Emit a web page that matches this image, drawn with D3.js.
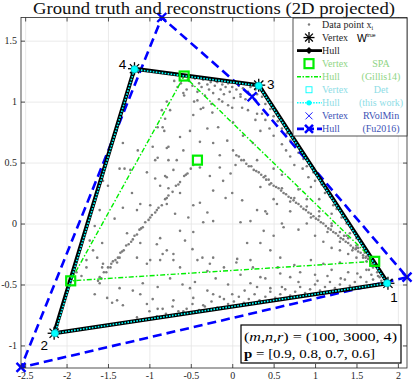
<!DOCTYPE html>
<html>
<head>
<meta charset="utf-8">
<title></title>
<style type="text/css">
	body{ margin:0; background:#fff; }
	svg text{ font-family:"Liberation Serif","DejaVu Serif",serif; }
</style>
</head>
<body>
<div id="chart"></div>
<script src="https://d3js.org/d3.v7.min.js"></script>
<script>
// tick labels
let xTicks=[-2.5,-2,-1.5,-1,-0.5,0,0.5,1,1.5,2]
let yTicks=[-1,-0.5,0,0.5,1,1.5]

// vertices
let trueVerts=[[1.88,-0.49],[-2.15,-0.90],[0.32,1.135],[-1.18,1.27]]
let trueHull=[0,1,3,2,0]
let detVerts=[[1.87,-0.49],[-2.14,-0.90],[0.32,1.13],[-1.18,1.265]]
let spaVerts=[[1.72,-0.31],[-1.95,-0.47],[-0.58,1.21],[-0.42,0.52]]
let spaHull=[0,1,2,0]
let rvolVerts=[[2.11,-0.44],[-2.55,-1.18],[-0.85,1.69],[0.24,1.04]]
let rvolHull=[0,1,2,3,0]
let vertLabels=["1","2","3","4"]

// data points x_i (dense streak lower left)
let ptsLineA=[[-1.62,-0.47],[-1.60,-0.44],[-1.58,-0.45],[-1.55,-0.40],[-1.52,-0.40],[-1.50,-0.36],[-1.47,-0.36],[-1.46,-0.33],[-1.44,-0.31],[-1.41,-0.30],[-1.38,-0.28],[-1.35,-0.24],[-1.33,-0.23],[-1.31,-0.22],[-1.28,-0.18],[-1.25,-0.17],[-1.22,-0.15],[-1.20,-0.13],[-1.18,-0.10],[-1.15,-0.09],[-1.12,-0.05],[-1.10,-0.04],[-1.08,-0.03],[-1.05,0.01],[-1.01,0.03],[-0.99,0.05],[-0.97,0.07],[-0.93,0.09],[-0.91,0.11],[-0.89,0.13],[-0.85,0.15],[-0.81,0.20],[-0.79,0.21],[-0.77,0.23],[-0.72,0.26],[-0.68,0.31],[-0.65,0.32],[-0.63,0.34],[-0.58,0.39],[-0.56,0.40],[-0.54,0.41],[-0.50,0.45],[-0.47,0.48]]
// dense streak right
let ptsLineB=[[0.05,0.56],[0.08,0.55],[0.11,0.52],[0.14,0.52],[0.17,0.49],[0.20,0.47],[0.23,0.47],[0.26,0.44],[0.29,0.43],[0.32,0.42],[0.35,0.40],[0.38,0.38],[0.41,0.36],[0.44,0.36],[0.47,0.33],[0.50,0.31],[0.53,0.30],[0.56,0.29],[0.59,0.27],[0.62,0.25],[0.65,0.24],[0.68,0.22],[0.71,0.21],[0.74,0.19],[0.77,0.17],[0.80,0.16],[0.83,0.14],[0.86,0.12],[0.89,0.11],[0.92,0.09],[0.95,0.08],[0.98,0.06],[1.01,0.04],[1.04,0.03],[1.07,0.01],[1.10,0.00],[1.13,-0.02],[1.16,-0.04],[1.19,-0.05],[1.22,-0.07],[1.25,-0.08],[1.28,-0.10],[1.31,-0.12],[1.34,-0.13],[1.37,-0.15],[1.40,-0.16],[1.43,-0.18],[1.46,-0.20],[1.49,-0.21],[1.52,-0.23],[1.55,-0.24],[1.58,-0.26],[1.61,-0.28],[1.64,-0.29],[1.67,-0.31],
	[0.40,0.39],[0.60,0.29],[0.75,0.21],[0.90,0.14],[1.05,0.06],[1.20,-0.02],[1.35,-0.10],[1.50,-0.18],[1.60,-0.24],[0.45,0.32],[0.70,0.18],[0.95,0.05],[1.15,-0.07],[1.30,-0.15],[1.45,-0.22],[1.62,-0.31]]
// band under the top edge
let ptsTop=[[-0.70,1.17],[-0.66,1.12],[-0.62,1.15],[-0.55,1.10],[-0.52,1.17],[-0.48,1.13],[-0.45,1.19],[-0.42,1.08],[-0.40,1.15],[-0.37,1.12],[-0.35,1.18],[-0.33,1.05],[-0.30,1.14],[-0.28,1.10],[-0.26,1.16],[-0.23,1.07],[-0.21,1.13],[-0.18,1.16],[-0.16,1.02],[-0.14,1.10],[-0.12,1.14],[-0.10,1.06],[-0.08,1.12],[-0.05,1.15],[-0.03,1.08],[0.00,1.12],[0.02,1.03],[0.05,1.10],[0.08,1.13],[0.10,1.06],[0.13,1.11],[0.16,1.02],[0.19,1.08],[0.22,1.12],[0.25,1.05],[-0.58,1.05],[-0.46,1.00],[-0.25,0.98],[-0.05,0.97],[0.12,0.95],[-0.38,0.94],[-0.20,1.17],[-0.60,1.20],[0.28,1.10]]
// band over the bottom edge
let ptsBottom=[[-1.0,-0.72],[-0.9,-0.70],[-0.8,-0.74],[-0.72,-0.68],[-0.65,-0.72],[-0.55,-0.70],[-0.48,-0.66],[-0.40,-0.71],[-0.33,-0.68],[-0.25,-0.64],[-0.18,-0.69],[-0.10,-0.62],[-0.05,-0.66],[0.02,-0.64],[0.08,-0.60],[0.14,-0.65],[0.20,-0.62],[0.27,-0.58],[0.33,-0.63],[0.40,-0.60],[0.46,-0.56],[0.52,-0.61],[0.58,-0.58],[0.64,-0.54],[0.70,-0.59],[0.76,-0.56],[0.82,-0.52],[0.88,-0.57],[0.94,-0.54],[1.00,-0.50],[1.06,-0.55],[1.12,-0.52],[1.18,-0.48],[1.24,-0.53],[1.30,-0.50],[1.36,-0.46],[1.42,-0.51],[1.48,-0.48],[1.55,-0.44],[1.62,-0.48],[1.70,-0.46],[1.76,-0.43],[1.80,-0.47]]
// band along the right edge
let ptsRight=[[1.65,-0.38],[1.58,-0.28],[1.52,-0.20],[1.50,-0.12],[1.42,-0.08],[1.38,0.00],[1.32,0.05],[1.26,0.12],[1.22,0.15],[1.18,0.22],[1.12,0.25],[1.08,0.32],[1.00,0.35],[0.98,0.42],[0.90,0.47],[0.86,0.53],[0.80,0.58],[0.76,0.64],[0.70,0.68],[0.66,0.74],[0.60,0.78],[0.55,0.84],[0.50,0.88],[0.46,0.94],[0.40,0.98],[0.36,1.04],[0.30,1.06]]
// the rest of the cloud
let ptsScatter=[[-0.79,1.00],[-0.85,0.93],[-0.81,0.86],[-0.90,0.79],[-0.82,0.76],[-1.32,0.66],[-1.14,0.60],[-0.96,0.63],[-0.90,0.54],[-0.93,0.52],[-1.36,0.45],[-1.30,0.45],[-0.77,0.52],[-0.79,0.62],
	[-1.56,0.35],[-1.50,0.31],[-1.60,0.11],[-1.66,-0.02],[-1.72,-0.14],[-1.68,-0.22],[-1.76,-0.30],[-1.63,-0.28],[-1.57,-0.16],
	[-1.23,0.44],[-1.03,0.42],[-0.93,0.37],[-0.87,0.31],[-0.79,0.38],[-1.21,0.25],[-1.11,0.16],[-0.99,0.15],[-1.15,0.11],[-1.32,0.13],[-1.42,0.04],[-1.27,-0.08],[-1.11,-0.16],[-0.91,-0.17],[-0.84,-0.25],[-0.99,-0.30],[-1.36,-0.28],[-1.57,-0.36],
	[-1.76,-0.36],[-1.82,-0.43],[-1.88,-0.40],[-1.56,-0.33],[-1.39,-0.32],[-1.15,-0.28],[-1.03,-0.33],[-0.87,-0.30],[-0.71,-0.25],[-0.63,-0.36],[-0.42,-0.30],[-0.30,-0.39],[-0.23,-0.28],
	[-1.51,-0.61],[-1.45,-0.65],[-1.39,-0.63],[-1.32,-0.67],[-1.20,-0.55],[-1.11,-0.58],[-1.03,-0.66],[-0.96,-0.62],[-0.84,-0.70],[-0.71,-0.63],[-0.59,-0.72],[-0.47,-0.61],[-0.35,-0.67],[-0.23,-0.58],[-1.60,-0.49],[-1.66,-0.58],[-1.08,-0.49],[-1.36,-0.53],[-0.51,-0.53],[-0.91,-0.76],[-1.15,-0.77],
	[-0.81,0.39],[-0.71,0.44],[-0.77,0.29],[-0.63,0.25],[-0.79,0.16],[-0.39,0.17],[-0.30,0.09],[-0.23,0.02],[-0.35,0.01],[-0.47,-0.07],[-0.63,-0.06],[-0.57,-0.14],[-0.48,-0.21],[-0.79,-0.22],[-0.36,-0.28],[-0.27,-0.33],[0.06,-0.29],[0.18,-0.16],[0.34,-0.16],[0.46,-0.22],[0.58,-0.28],[0.38,-0.06],[0.22,0.02],[0.10,0.01],[0.30,0.11],[0.42,0.08],[0.54,0.16],[0.62,-0.03],[0.00,0.25],[-0.08,0.21],[0.12,0.19],[-0.02,0.41],[0.04,0.48],[-0.15,0.46],[-0.11,0.35],[-0.27,0.39],[-0.39,0.46],[-0.23,0.27],[-0.47,0.15],[-0.53,0.05],[-0.69,0.08],[-0.87,-0.12],[-0.71,-0.30],[0.22,-0.30],[0.50,-0.10],[0.34,0.30],
	[-0.59,1.07],[-0.42,1.01],[-0.35,0.95],[-0.47,0.89],[-0.24,0.91],[-0.12,1.00],[0.00,0.95],[0.10,1.04],[0.19,0.93],[0.28,0.85],[0.01,0.83],[-0.17,0.79],[-0.30,0.78],[-0.51,0.76],[-0.63,0.71],[-0.39,0.67],[-0.23,0.66],[-0.06,0.68],[0.13,0.72],[0.25,0.66],[0.01,0.60],[-0.15,0.56],[-0.59,0.60],[-0.67,0.52],[-0.84,0.79],[-0.75,0.93],[-0.77,0.63],[0.34,0.76],[0.36,0.90],
	[0.95,0.30],[1.05,0.20],[0.85,0.45],[0.70,0.55],[0.75,0.48],[0.60,0.65],[0.50,0.72],[0.40,0.85],[0.30,0.90],[0.45,0.78],[1.38,-0.10],[1.50,-0.20],[1.20,0.08],[0.92,0.38],[0.65,0.60],
	[0.30,0.52],[0.60,0.40],[0.90,0.20],[1.20,0.00],[1.40,-0.12],[0.50,0.45],[0.80,0.28],[1.05,0.10],[1.30,-0.07],
	[0.40,0.10],[0.60,0.00],[0.80,-0.05],[1.00,-0.10],[1.20,-0.20],[1.40,-0.25],[0.50,0.20],[0.70,0.10],[0.90,0.00],[1.10,-0.15],[1.30,-0.22],[1.50,-0.28],
	[0.58,-0.41],[0.70,-0.44],[0.82,-0.40],[1.03,-0.47],[1.15,-0.43],[1.31,-0.45],[1.51,-0.41],[0.22,-0.49],[0.34,-0.44],[0.46,-0.53],[-0.20,-0.45],[-0.05,-0.50],[0.10,-0.42],[0.30,-0.52],[0.00,-0.58],[-0.30,-0.55],[-0.15,-0.60],[0.15,-0.55],[0.40,-0.45],[0.60,-0.52],[0.80,-0.48],[1.00,-0.42],[1.20,-0.38],[1.40,-0.40],[-0.45,-0.48],[-0.60,-0.50],[-0.75,-0.45],[-0.90,-0.52],[0.55,-0.36],[0.75,-0.34],[0.95,-0.30],[1.10,-0.33],[1.30,-0.32],[0.25,-0.36],[-0.10,-0.36],[0.05,-0.32],
	[1.75,-0.40],[1.70,-0.36],[1.78,-0.44],[1.68,-0.42],[1.62,-0.38],[1.69,-0.33],[1.62,-0.27]]

let legendLeft=["Data point x","Vertex","Hull","Vertex","Hull","Vertex","Hull","Vertex","Hull"]
let legendRight=["","","","SPA","(Gillis14)","Det","(this work)","RVolMin","(Fu2016)"]

let w=415, h=383
let pL=21, pR=407, pT=17.5, pB=368
let green="#00ee00", cyan="#00ffff", blue="#0000ff", ink="#262626"
let txtCol=[ink,ink,ink,"#8fd585","#8fd585","#8ddde6","#8ddde6","#3d53b6","#3d53b6"]

let svg=d3.select("#chart").append("svg")
	.attr("width",w)
	.attr("height",h)

let x=d3.scaleLinear().domain([-2.55,2.11]).range([pL,pR])
let y=d3.scaleLinear().domain([-1.185,1.69]).range([pB,pT])

// grid
svg.append("g")
	.attr("transform","translate(0,"+pB+")")
	.call(d3.axisBottom(x).tickValues(xTicks).tickSize(-(pB-pT)).tickFormat(""))
	.call(g=>g.select(".domain").remove())
	.selectAll("line").attr("stroke","#e4e4e4").attr("stroke-width",0.8)
svg.append("g")
	.attr("transform","translate("+pL+",0)")
	.call(d3.axisLeft(y).tickValues(yTicks).tickSize(-(pR-pL)).tickFormat(""))
	.call(g=>g.select(".domain").remove())
	.selectAll("line").attr("stroke","#e4e4e4").attr("stroke-width",0.8)

// data points
let allPts=ptsLineA.concat(ptsLineB,ptsTop,ptsBottom,ptsRight,ptsScatter)
svg.append("g").selectAll("circle")
	.data(allPts)
	.enter()
	.append("circle")
	.attr("cx",function(d){ return x(d[0]) })
	.attr("cy",function(d){ return y(d[1]) })
	.attr("r",1.3)
	.attr("fill","#7d7d7d")

let line=d3.line()
	.x(function(d){ return x(d[0]) })
	.y(function(d){ return y(d[1]) })

function hullPts(verts,order){
	return order.map(function(i){ return verts[i] })
}

// RVolMin hull
svg.append("path")
	.attr("d",line(hullPts(rvolVerts,rvolHull)))
	.attr("fill","none")
	.attr("stroke",blue)
	.attr("stroke-width",2.6)
	.attr("stroke-dasharray","9,5")

// SPA hull
svg.append("path")
	.attr("d",line(hullPts(spaVerts,spaHull)))
	.attr("fill","none")
	.attr("stroke",green)
	.attr("stroke-width",1.4)
	.attr("stroke-dasharray","5,2,1.5,2")

// ground truth hull + Det hull
svg.append("path")
	.attr("d",line(hullPts(trueVerts,trueHull)))
	.attr("fill","none")
	.attr("stroke","#000")
	.attr("stroke-width",4)
	.attr("stroke-linejoin","round")
svg.append("path")
	.attr("d",line(hullPts(detVerts,trueHull)))
	.attr("fill","none")
	.attr("stroke",cyan)
	.attr("stroke-width",1.6)
	.attr("stroke-dasharray","1.6,1.4")

function star(g,cx,cy,r){
	for(let a=0;a<4;a++){
		let t=a*Math.PI/4
		g.append("line")
			.attr("x1",cx-r*Math.cos(t)).attr("y1",cy-r*Math.sin(t))
			.attr("x2",cx+r*Math.cos(t)).attr("y2",cy+r*Math.sin(t))
			.attr("stroke","#000").attr("stroke-width",1.3)
	}
}
function cross(g,cx,cy,r,col,sw){
	g.append("path")
		.attr("d","M"+(cx-r)+","+(cy-r)+"L"+(cx+r)+","+(cy+r)+"M"+(cx-r)+","+(cy+r)+"L"+(cx+r)+","+(cy-r))
		.attr("stroke",col).attr("stroke-width",sw).attr("fill","none")
}

let marks=svg.append("g")
trueVerts.forEach(function(d){ star(marks,x(d[0]),y(d[1]),6.5) })
marks.selectAll("circle.det")
	.data(detVerts)
	.enter()
	.append("circle")
	.attr("class","det")
	.attr("cx",function(d){ return x(d[0]) })
	.attr("cy",function(d){ return y(d[1]) })
	.attr("r",3.6)
	.attr("fill",cyan)
	.attr("stroke","#00b8c0")
	.attr("stroke-width",0.8)
marks.selectAll("rect.spa")
	.data(spaVerts)
	.enter()
	.append("rect")
	.attr("class","spa")
	.attr("x",function(d){ return x(d[0])-4.5 })
	.attr("y",function(d){ return y(d[1])-4.5 })
	.attr("width",9)
	.attr("height",9)
	.attr("fill","none")
	.attr("stroke",green)
	.attr("stroke-width",2.2)
rvolVerts.forEach(function(d){ cross(marks,x(d[0]),y(d[1]),4.5,blue,2.4) })

// vertex numbers
let labOff=[[6,14],[-10,12],[12,-1],[-12,-5]]
svg.append("g").selectAll("text")
	.data(vertLabels)
	.enter()
	.append("text")
	.text(function(d){ return d })
	.attr("x",function(d,i){ return x(trueVerts[i][0])+labOff[i][0] })
	.attr("y",function(d,i){ return y(trueVerts[i][1])+labOff[i][1] })
	.attr("text-anchor","middle")
	.attr("dy","0.36em")
	.style("font-family","'Liberation Sans',Arial,sans-serif")
	.attr("font-size","13.5px")
	.attr("fill","#000")

// axes
svg.append("rect")
	.attr("x",pL).attr("y",pT)
	.attr("width",pR-pL).attr("height",pB-pT)
	.attr("fill","none").attr("stroke",ink).attr("stroke-width",0.8)

let fmt=function(d){ return String(d) }
let ax=svg.append("g")
	.attr("transform","translate(0,"+pB+")")
	.call(d3.axisBottom(x).tickValues(xTicks).tickSize(-4).tickPadding(4).tickFormat(fmt))
let ay=svg.append("g")
	.attr("transform","translate("+pL+",0)")
	.call(d3.axisLeft(y).tickValues(yTicks).tickSize(-4).tickPadding(4).tickFormat(fmt))
let axT=svg.append("g")
	.attr("transform","translate(0,"+pT+")")
	.call(d3.axisTop(x).tickValues(xTicks).tickSize(-4).tickFormat(""))
let ayR=svg.append("g")
	.attr("transform","translate("+pR+",0)")
	.call(d3.axisRight(y).tickValues(yTicks).tickSize(-4).tickFormat(""))
;[ax,ay,axT,ayR].forEach(function(g){
	g.select(".domain").remove()
	g.selectAll("line").attr("stroke",ink).attr("stroke-width",0.8)
	g.selectAll("text").attr("fill",ink).attr("font-size","10px").style("font-family","'Liberation Serif',serif")
})

// title
svg.append("text")
	.text("Ground truth and reconstructions (2D projected)")
	.attr("x",214)
	.attr("y",14)
	.attr("text-anchor","middle")
	.attr("font-size","16.5px")
	.attr("textLength",362)
	.attr("lengthAdjust","spacingAndGlyphs")
	.attr("fill","#111")

// legend
let lg=svg.append("g")
let lx0=293, lx1=407, ly0=18, ly1=136
lg.append("rect")
	.attr("x",lx0).attr("y",ly0)
	.attr("width",lx1-lx0).attr("height",ly1-ly0)
	.attr("fill","#fff").attr("stroke",ink).attr("stroke-width",0.8)
let rowY=function(i){ return 24.5+i*13.05 }
let icx=309
// icons
lg.append("circle").attr("cx",icx).attr("cy",rowY(0)).attr("r",1.2).attr("fill","#7d7d7d")
star(lg,icx,rowY(1),5.5)
lg.append("line").attr("x1",297).attr("x2",322).attr("y1",rowY(2)).attr("y2",rowY(2))
	.attr("stroke","#000").attr("stroke-width",2.8)
lg.append("path").attr("d","M"+icx+","+(rowY(2)-3.5)+"l3.5,3.5l-3.5,3.5l-3.5,-3.5z").attr("fill","#000")
lg.append("rect").attr("x",icx-4.5).attr("y",rowY(3)-4.5).attr("width",9).attr("height",9)
	.attr("fill","none").attr("stroke",green).attr("stroke-width",2.2)
lg.append("line").attr("x1",297).attr("x2",322).attr("y1",rowY(4)).attr("y2",rowY(4))
	.attr("stroke",green).attr("stroke-width",1.4).attr("stroke-dasharray","4,1.5,1.5,1.5")
lg.append("rect").attr("x",icx-3).attr("y",rowY(5)-3).attr("width",6).attr("height",6)
	.attr("fill","none").attr("stroke",cyan).attr("stroke-width",0.9)
lg.append("line").attr("x1",297).attr("x2",322).attr("y1",rowY(6)).attr("y2",rowY(6))
	.attr("stroke",cyan).attr("stroke-width",1.5).attr("stroke-dasharray","1.5,1.2")
lg.append("circle").attr("cx",icx).attr("cy",rowY(6)).attr("r",2.6).attr("fill",cyan)
cross(lg,icx,rowY(7),3.5,blue,0.9)
lg.append("line").attr("x1",297).attr("x2",322).attr("y1",rowY(8)).attr("y2",rowY(8))
	.attr("stroke",blue).attr("stroke-width",2.8).attr("stroke-dasharray","7,3")
cross(lg,icx,rowY(8),4,blue,2.6)

// legend texts
lg.selectAll("text.l")
	.data(legendLeft)
	.enter()
	.append("text")
	.attr("class","l")
	.text(function(d){ return d })
	.attr("x",322)
	.attr("y",function(d,i){ return rowY(i) })
	.attr("dy","0.35em")
	.attr("font-size","10px")
	.attr("fill",function(d,i){ return txtCol[i] })
lg.select("text.l").append("tspan").text("i").attr("font-size","6px").attr("dy","0.25em")
lg.append("text").text("W").attr("x",357).attr("y",rowY(1)+4.5)
	.style("font-family","'Liberation Sans',sans-serif").attr("font-size","10.5px").attr("fill","#000")
	.append("tspan").text("true").attr("font-size","5px").attr("dy","-5")
lg.selectAll("text.r")
	.data(legendRight)
	.enter()
	.append("text")
	.attr("class","r")
	.text(function(d){ return d })
	.attr("x",381)
	.attr("y",function(d,i){ return rowY(i) })
	.attr("dy","0.35em")
	.attr("text-anchor","middle")
	.attr("font-size","10px")
	.attr("fill",function(d,i){ return txtCol[i] })

// parameter box
let bx=svg.append("g")
bx.append("rect")
	.attr("x",241).attr("y",325).attr("width",160).attr("height",38)
	.attr("fill","#fff").attr("stroke","#000").attr("stroke-width",1.2)
let t1=bx.append("text").attr("x",244).attr("y",341).attr("font-size","13.5px").attr("fill","#000")
	.attr("textLength",153).attr("lengthAdjust","spacingAndGlyphs")
t1.append("tspan").text("(")
t1.append("tspan").text("m").attr("font-style","italic")
t1.append("tspan").text(",")
t1.append("tspan").text("n").attr("font-style","italic")
t1.append("tspan").text(",")
t1.append("tspan").text("r").attr("font-style","italic")
t1.append("tspan").text(") = (100, 3000, 4)")
let t2=bx.append("text").attr("x",244).attr("y",357.5).attr("font-size","13.5px").attr("fill","#000")
	.attr("textLength",131).attr("lengthAdjust","spacingAndGlyphs")
t2.append("tspan").text("p").attr("font-weight","bold")
t2.append("tspan").text(" = [0.9, 0.8, 0.7, 0.6]")
</script>
</body>
</html>
